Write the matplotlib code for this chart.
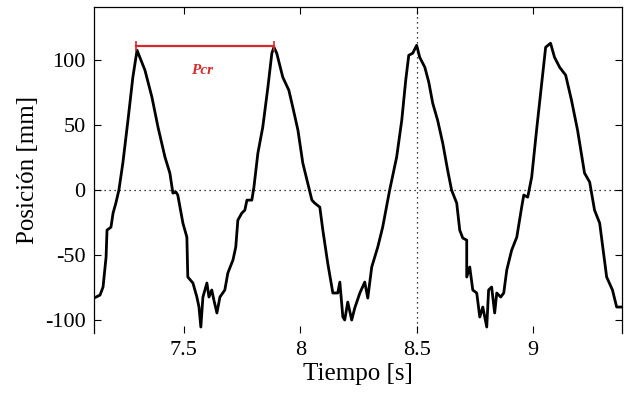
import matplotlib
matplotlib.use('Agg')
import matplotlib.pyplot as plt

tiempo = [7.114, 7.140, 7.153, 7.166, 7.170, 7.187, 7.196, 7.208, 7.221, 7.238,
          7.260, 7.281, 7.299, 7.311, 7.333, 7.363, 7.389, 7.419, 7.440, 7.449,
          7.453, 7.466, 7.474, 7.496, 7.513, 7.517, 7.539, 7.556, 7.565, 7.573,
          7.582, 7.599, 7.608, 7.620, 7.629, 7.642, 7.655, 7.676, 7.689, 7.711,
          7.723, 7.732, 7.749, 7.762, 7.771, 7.792, 7.801, 7.818, 7.839, 7.861,
          7.878, 7.887, 7.899, 7.925, 7.951, 7.968, 7.990, 8.011, 8.032, 8.050,
          8.062, 8.084, 8.097, 8.118, 8.140, 8.161, 8.170, 8.183, 8.191, 8.204,
          8.221, 8.234, 8.256, 8.277, 8.290, 8.307, 8.333, 8.354, 8.384, 8.414,
          8.436, 8.453, 8.466, 8.483, 8.500, 8.513, 8.535, 8.552, 8.569, 8.590,
          8.612, 8.633, 8.650, 8.672, 8.685, 8.698, 8.715, 8.715, 8.728, 8.741,
          8.758, 8.771, 8.784, 8.801, 8.809, 8.822, 8.835, 8.844, 8.861, 8.874,
          8.887, 8.908, 8.930, 8.951, 8.960, 8.977, 8.994, 9.015, 9.037, 9.054,
          9.075, 9.092, 9.114, 9.140, 9.165, 9.191, 9.221, 9.243, 9.264, 9.286,
          9.316, 9.341, 9.359, 9.380]
posicion = [-83.1, -80.8, -74.6, -51.5, -30.8, -28.5, -17.7, -10.0, 0.0, 20.8,
            53.8, 86.9, 107.7, 102.3, 92.3, 71.5, 48.5, 25.4, 13.1, 2.3,
            -2.3, -1.5, -3.8, -25.4, -36.2, -66.9, -71.5, -82.3, -90.0, -105.4,
            -82.3, -71.5, -82.3, -76.9, -84.6, -94.6, -82.3, -76.9, -63.8, -53.8,
            -43.8, -23.1, -17.7, -15.4, -7.7, -7.7, 2.3, 28.5, 48.5, 79.2,
            105.4, 110.0, 105.4, 86.9, 76.9, 63.8, 46.2, 20.8, 5.4, -7.7,
            -10.0, -13.1, -30.8, -56.2, -79.2, -79.2, -70.8, -97.7, -100.0, -86.2,
            -100.0, -90.8, -79.2, -70.8, -83.1, -59.2, -43.8, -28.5, 0.0, 25.4,
            53.8, 84.6, 103.8, 105.4, 111.5, 102.3, 94.6, 83.1, 66.9, 53.8,
            36.2, 15.4, 0.0, -10.0, -30.8, -36.9, -38.5, -66.9, -59.2, -76.9,
            -79.2, -97.7, -90.0, -105.4, -76.9, -74.6, -94.6, -79.2, -82.3, -79.2,
            -61.5, -46.2, -36.2, -13.1, -3.8, -5.4, 10.0, 46.2, 82.3, 110.0,
            113.1, 102.3, 94.6, 88.5, 69.2, 46.2, 13.1, 6.2, -15.4, -25.4,
            -66.9, -76.9, -90.0, -90.0]

# periodo critico
pcr_t = [7.294, 7.887]
pcr_y = [110.8, 110.8]

xticks = [7.5, 8, 8.5, 9]
xlabels = ['7.5', '8', '8.5', '9']
yticks = [-100, -50, 0, 50, 100]

plt.rcParams['font.family'] = ['Liberation Serif', 'DejaVu Serif']
plt.rcParams['axes.unicode_minus'] = False

fig = plt.figure(figsize=(6.29, 3.99), dpi=100)
ax = fig.add_axes([0.1494, 0.1654, 0.8395, 0.8171])

ax.axhline(0, color='black', linestyle=(0, (1, 3)), linewidth=0.9)
ax.axvline(8.5, color='black', linestyle=(0, (1, 3)), linewidth=0.9)
ax.plot(tiempo, posicion, color='black', linewidth=2.0)

ax.plot(pcr_t, pcr_y, color='#d42a2a', linewidth=1.6, marker='|',
        markersize=7, markeredgewidth=1.2)
ax.text(7.580, 92, 'Pcr', color='#d42a2a', fontsize=11, fontstyle='italic',
        fontweight='bold', ha='center', va='center')

ax.set_xlim(7.114, 9.382)
ax.set_ylim(-110, 141)
ax.set_xticks(xticks)
ax.set_xticklabels(xlabels)
ax.set_yticks(yticks)
ax.tick_params(direction='in', top=True, right=True, labelsize=16, length=5,
               width=0.8, pad=6)
ax.spines['bottom'].set_visible(False)
for s in ['left', 'right', 'top']:
    ax.spines[s].set_linewidth(0.9)

ax.set_xlabel('Tiempo [s]', fontsize=18, labelpad=2)
ax.set_ylabel('Posición [mm]', fontsize=18, labelpad=4)

fig.savefig('out.png', dpi=100)
